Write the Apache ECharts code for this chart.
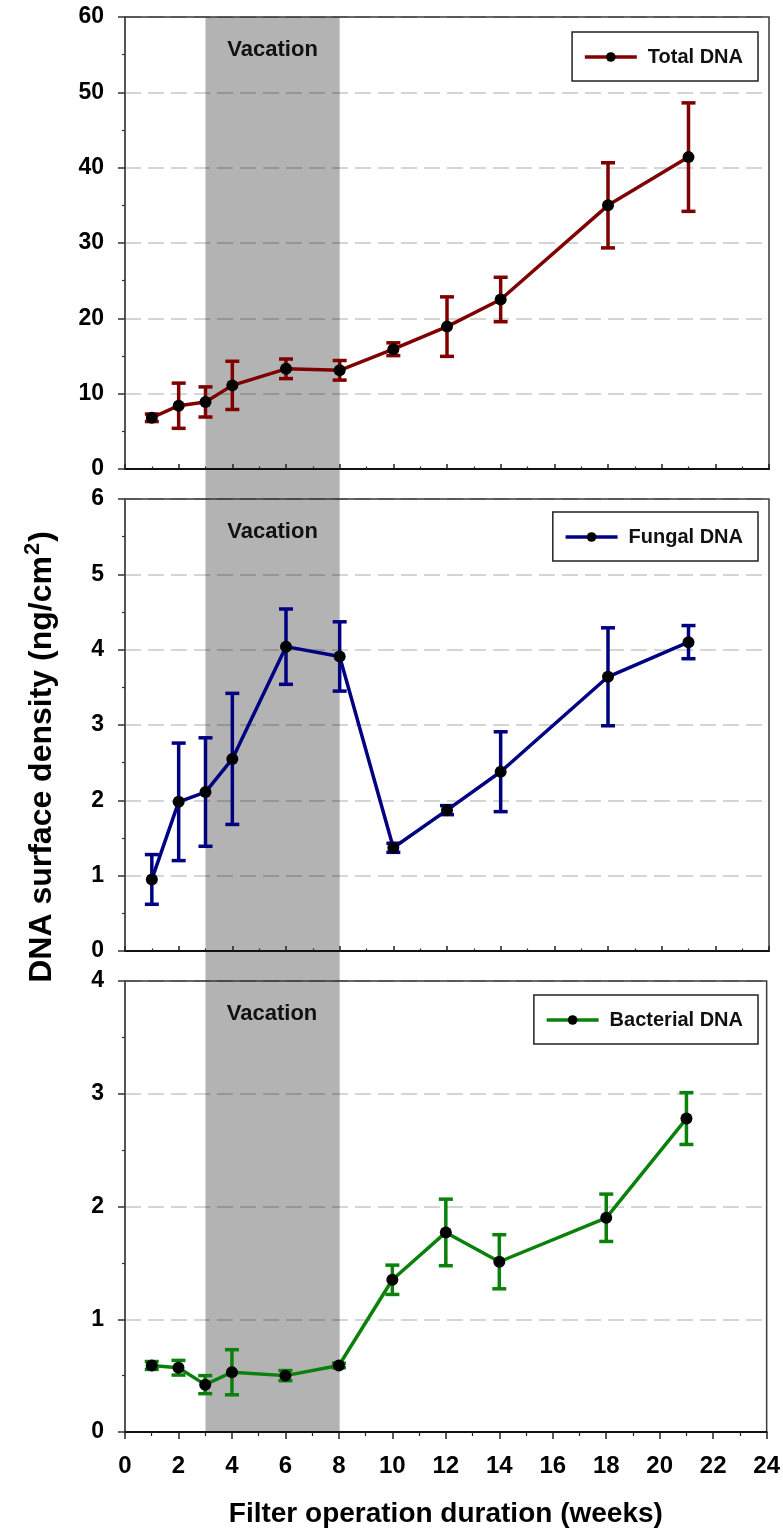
<!DOCTYPE html>
<html>
<head>
<meta charset="utf-8">
<script src="https://cdn.jsdelivr.net/npm/echarts@6/dist/echarts.min.js"></script>
<style>
html,body{margin:0;padding:0;background:#fff;}
#chart{width:783px;height:1529px;}
</style>
</head>
<body>
<div id="chart"></div>
<script>
// ---- data ----
const weeks = [1, 2, 3, 4, 6, 8, 10, 12, 14, 18, 21];
const totalDNA = [6.8, 8.4, 8.9, 11.1, 13.3, 13.1, 15.9, 18.9, 22.5, 35.0, 41.4];
const totalErr = [0.5, 3.0, 2.0, 3.2, 1.3, 1.3, 0.85, 3.95, 2.95, 5.65, 7.2];
const fungalDNA = [0.95, 1.98, 2.11, 2.55, 4.04, 3.91, 1.37, 1.87, 2.38, 3.64, 4.10];
const fungalErr = [0.33, 0.78, 0.72, 0.87, 0.5, 0.46, 0.06, 0.06, 0.53, 0.65, 0.22];
const bacterialDNA = [0.59, 0.57, 0.42, 0.53, 0.50, 0.59, 1.35, 1.77, 1.51, 1.90, 2.78];
const bacterialErr = [0.035, 0.065, 0.08, 0.2, 0.045, 0.02, 0.13, 0.295, 0.24, 0.21, 0.23];
const vacation = [3, 8];
const vacationLabel = 'Vacation';
const seriesNames = ['Total DNA', 'Fungal DNA', 'Bacterial DNA'];
const yMax = [60, 6, 4];
const yInterval = [10, 1, 1];
const xMax = 24;
const xInterval = 2;
const xTitle = 'Filter operation duration (weeks)';
const yTitleMain = 'DNA surface density (ng/cm';
const yTitleSup = '2';

const FONT = '"Liberation Sans", Arial, Helvetica, sans-serif';
const colors = ['#7f0000', '#000080', '#0b800b'];
const values = [totalDNA, fungalDNA, bacterialDNA];
const errs = [totalErr, fungalErr, bacterialErr];
const gridTops = [17, 499, 981];
const gridH = 452;
const LEFT = 125, RIGHT = 14;

const chart = echarts.init(document.getElementById('chart'), null, {renderer: 'canvas'});

const grids = gridTops.map(t => ({left: LEFT, right: RIGHT, top: t, height: gridH,
  show: true, borderColor: '#3a3a3a', borderWidth: 1.5, backgroundColor: 'transparent'}));
grids.push({left: LEFT, right: RIGHT, top: gridTops[0], height: gridTops[2] + gridH - gridTops[0], show: false});

const xAxes = [0, 1, 2].map(i => ({
  gridIndex: i, type: 'value', min: 0, max: xMax, interval: xInterval, z: 2,
  axisLine: {show: true, onZero: false, lineStyle: {color: '#111', width: 2}},
  axisTick: {show: true, inside: i < 2, length: i < 2 ? 5 : 7, lineStyle: {color: '#222', width: 1.5}},
  minorTick: {show: true, splitNumber: 2, length: i < 2 ? 2.5 : 4, lineStyle: {color: '#222', width: 1.2}},
  splitLine: {show: false},
  axisLabel: {show: i === 2, margin: 22, color: '#000', fontFamily: FONT, fontWeight: 'bold', fontSize: 24},
  name: i === 2 ? xTitle : '', nameLocation: 'middle', nameGap: 68,
  nameTextStyle: {color: '#000', fontFamily: FONT, fontWeight: 'bold', fontSize: 28}
}));
xAxes.push({gridIndex: 3, type: 'value', min: 0, max: xMax, show: false});

const yAxes = [0, 1, 2].map(i => ({
  gridIndex: i, type: 'value', min: 0, max: yMax[i], interval: yInterval[i], z: 2,
  axisLine: {show: true, lineStyle: {color: '#555', width: 2}},
  axisTick: {show: true, inside: false, length: 7, lineStyle: {color: '#333', width: 1.5}},
  minorTick: {show: true, splitNumber: 2, length: 3, lineStyle: {color: '#333', width: 1.2}},
  splitLine: {show: true, lineStyle: {color: 'rgba(0,0,0,0.22)', width: 1.5, type: [16, 7]}},
  axisLabel: {margin: 21, color: '#000', fontFamily: FONT, fontWeight: 'bold', fontSize: 23}
}));
yAxes.push({gridIndex: 3, type: 'value', min: 0, max: 1, show: false});

const series = [];
// vacation band across all panels
series.push({
  type: 'custom', xAxisIndex: 3, yAxisIndex: 3, z: -1, silent: true,
  data: [vacation],
  renderItem: function (params, api) {
    const p0 = api.coord([api.value(0), 1]);
    const p1 = api.coord([api.value(1), 0]);
    return {type: 'rect', shape: {x: p0[0], y: p0[1], width: p1[0] - p0[0], height: p1[1] - p0[1]},
      style: {fill: '#b3b3b3'}};
  }
});

[0, 1, 2].forEach(i => {
  const col = colors[i];
  const ebData = weeks.map((w, k) => [w, values[i][k], errs[i][k]]);
  series.push({
    type: 'custom', xAxisIndex: i, yAxisIndex: i, z: 3, silent: true,
    data: ebData, encode: {x: 0, y: 1},
    renderItem: function (params, api) {
      const x = api.value(0), y = api.value(1), e = api.value(2);
      const t = api.coord([x, y + e]);
      const b = api.coord([x, y - e]);
      const c = 7;
      const st = {stroke: col, lineWidth: 3.5};
      return {type: 'group', children: [
        {type: 'line', shape: {x1: t[0], y1: t[1], x2: b[0], y2: b[1]}, style: st},
        {type: 'line', shape: {x1: t[0] - c, y1: t[1], x2: t[0] + c, y2: t[1]}, style: st},
        {type: 'line', shape: {x1: b[0] - c, y1: b[1], x2: b[0] + c, y2: b[1]}, style: st}
      ]};
    }
  });
  series.push({
    name: seriesNames[i], type: 'line', xAxisIndex: i, yAxisIndex: i, z: 4,
    data: weeks.map((w, k) => [w, values[i][k]]),
    symbol: 'circle', symbolSize: 12,
    lineStyle: {color: col, width: 3.5},
    itemStyle: {color: '#000'},
    emphasis: {disabled: true},
    markArea: {
      silent: true,
      itemStyle: {color: 'transparent'},
      label: {show: true, position: 'insideTop', distance: 22, formatter: vacationLabel,
        color: '#111', fontFamily: FONT, fontWeight: 'bold', fontSize: 22},
      data: [[{xAxis: vacation[0]}, {xAxis: vacation[1]}]]
    }
  });
});

const legendTops = [32, 512, 995];
const legends = [0, 1, 2].map(i => ({
  data: [seriesNames[i]], right: 25, top: legendTops[i], orient: 'horizontal',
  backgroundColor: '#fff', borderColor: '#222', borderWidth: 1.5,
  padding: [15, 15, 14, 11], itemWidth: 52, itemHeight: 12,
  selectedMode: false,
  lineStyle: {width: 3.5},
  textStyle: {color: '#111', fontFamily: FONT, fontWeight: 'bold', fontSize: 20, padding: [0, 0, 0, 6]}
}));

chart.setOption({
  animation: false,
  backgroundColor: '#fff',
  grid: grids,
  xAxis: xAxes,
  yAxis: yAxes,
  legend: legends,
  series: series,
  graphic: [{
    type: 'text', x: 42, y: 757, rotation: Math.PI / 2, z: 10,
    style: {
      text: '{a|' + yTitleMain + '}{s|' + yTitleSup + '}{a|)}',
      align: 'center', verticalAlign: 'middle',
      rich: {
        a: {fontFamily: FONT, fontWeight: 'bold', fontSize: 32, lineHeight: 40, fill: '#000', color: '#000'},
        s: {fontFamily: FONT, fontWeight: 'bold', fontSize: 22, lineHeight: 40, verticalAlign: 'top', color: '#000', padding: [0, 1, 14, 1]}
      }
    }
  }]
});
</script>
</body>
</html>
